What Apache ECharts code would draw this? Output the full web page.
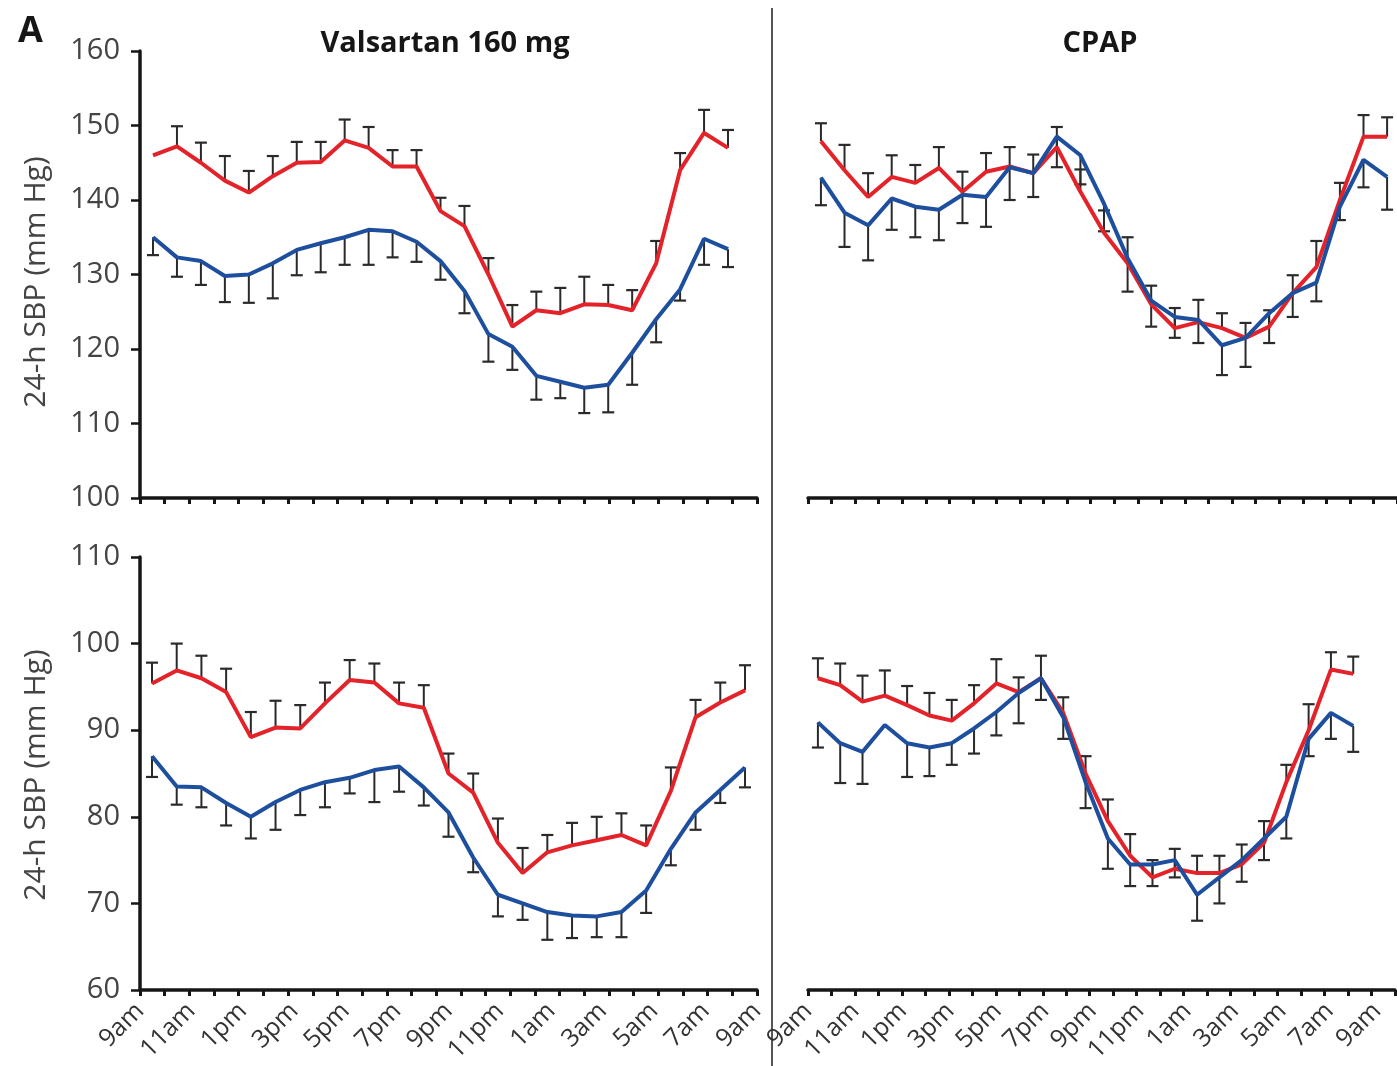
<!DOCTYPE html>
<html>
<head>
<meta charset="utf-8">
<script src="https://cdn.jsdelivr.net/npm/echarts@6/dist/echarts.min.js"></script>
<style>
  html, body { margin: 0; padding: 0; background: #ffffff; }
  #chart { width: 1397px; height: 1066px; }
</style>
</head>
<body>
<div id="chart"></div>
<script>
// Clock labels for the 24-h ambulatory recording (every 2 h)
const tickLabels = ['9am','11am','1pm','3pm','5pm','7pm','9pm','11pm','1am','3am','5am','7am','9am'];

// Valsartan 160 mg – upper panel (mm Hg), hourly means and SEM
const valRedTop     = [146.0,147.2,145.0,142.6,141.0,143.2,145.0,145.1,148.0,147.0,144.5,144.5,138.5,136.5,130.0,123.0,125.2,124.8,126.0,125.9,125.2,131.5,144.0,149.0,147.0];
const valRedTopErr  = [0,2.7,2.7,3.3,2.9,2.7,2.8,2.7,2.8,2.8,2.2,2.2,1.8,2.7,2.2,2.9,2.5,3.4,3.7,2.7,2.7,3.0,2.3,3.1,2.4];
const valBlueTop    = [135.0,132.3,131.8,129.8,130.0,131.5,133.3,134.2,135.0,136.0,135.8,134.4,131.8,127.8,122.0,120.3,116.4,115.6,114.8,115.2,119.5,124.0,128.0,134.8,133.4];
const valBlueTopErr = [2.4,2.6,3.2,3.5,3.8,4.7,3.4,3.9,3.7,4.7,3.5,2.7,2.5,3.0,3.7,3.1,3.2,2.2,3.4,3.7,4.3,3.1,1.5,3.5,2.4];

// Valsartan 160 mg – lower panel
const valRedBot     = [95.4,96.9,96.0,94.4,89.2,90.3,90.2,93.1,95.8,95.5,93.1,92.6,85.0,82.8,77.0,73.5,75.9,76.7,77.3,77.9,76.7,83.0,91.5,93.2,94.6];
const valRedBotErr  = [2.4,3.1,2.6,2.7,2.9,3.1,2.7,2.4,2.3,2.2,2.4,2.6,2.3,2.2,2.8,2.9,2.0,2.6,2.7,2.5,2.3,2.7,2.0,2.3,2.9];
const valBlueBot    = [87.0,83.5,83.4,81.6,80.0,81.7,83.1,84.0,84.5,85.4,85.8,83.4,80.5,75.3,71.0,70.0,69.0,68.6,68.5,69.0,71.5,76.3,80.5,83.1,85.7];
const valBlueBotErr = [2.4,2.1,2.3,2.6,2.5,3.2,2.9,2.9,1.8,3.7,2.9,2.1,2.8,1.7,2.5,1.9,3.2,2.6,2.4,2.9,2.6,1.9,2.0,1.5,2.3];

// CPAP – upper panel
const cpapRedTop     = [147.9,144.0,140.4,143.1,142.3,144.3,141.1,143.8,144.5,143.6,147.1,141.1,135.6,131.5,126.0,122.8,123.6,122.8,121.5,123.0,127.5,131.0,140.0,148.5,148.5];
const cpapRedTopErr  = [2.4,3.4,3.2,2.9,2.4,2.8,2.7,2.5,2.6,2.5,2.7,3.0,3.0,3.5,2.5,2.7,3.0,2.0,2.0,2.2,2.4,3.5,2.3,2.9,2.6];
const cpapBlueTop    = [143.0,138.3,136.6,140.2,139.1,138.7,140.7,140.4,144.4,143.6,148.5,146.0,139.5,132.2,126.5,124.3,123.9,120.5,121.5,124.8,127.5,128.9,139.1,145.4,143.1];
const cpapBlueTopErr = [3.7,4.6,4.7,4.2,4.1,4.1,3.8,4.0,4.4,3.2,4.1,3.9,3.7,4.5,3.5,2.8,3.1,4.0,3.9,4.0,3.2,2.5,1.8,3.7,4.4];

// CPAP – lower panel
const cpapRedBot     = [96.0,95.2,93.3,94.0,92.9,91.7,91.1,93.1,95.4,94.4,96.0,92.0,85.0,79.5,75.5,73.0,74.0,73.5,73.5,74.5,77.0,84.0,90.0,97.0,96.5];
const cpapRedBotErr  = [2.3,2.5,3.0,2.9,2.2,2.6,2.4,2.1,2.8,1.7,2.6,1.8,2.0,2.5,2.5,2.0,2.3,2.0,2.0,2.3,2.5,2.0,3.0,2.0,2.0];
const cpapBlueBot    = [90.9,88.5,87.5,90.6,88.5,88.0,88.5,90.2,92.1,94.3,96.0,91.5,84.0,77.5,74.5,74.5,75.0,71.0,73.0,75.0,77.5,80.0,89.0,92.0,90.5];
const cpapBlueBotErr = [2.9,4.6,3.7,0,3.9,3.3,2.5,2.9,2.7,3.5,2.5,2.5,3.0,3.5,2.5,2.5,2.0,3.0,3.0,2.5,2.5,2.5,2.0,3.0,3.0];

const RED = '#e42229';
const BLUE = '#1d4f9e';
const INK = '#161616';
const FONT = '"Open Sans", "Noto Sans", sans-serif';

// Panel layout: grid box, y range, and the span of the hourly points on the time axis
const panels = [
  { grid: {left: 140, top: 51,  width: 617, height: 447}, yMin: 100, yMax: 160, showY: true,  showLabels: false, dMin: -0.5426, dMax: 25.21, lMax: 24,
    red: valRedTop, redErr: valRedTopErr, blue: valBlueTop, blueErr: valBlueTopErr },
  { grid: {left: 140, top: 557, width: 617, height: 433}, yMin: 60,  yMax: 110, showY: true,  showLabels: true,  dMin: -0.4857, dMax: 24.486, lMax: 24,
    red: valRedBot, redErr: valRedBotErr, blue: valBlueBot, blueErr: valBlueBotErr },
  { grid: {left: 808, top: 51,  width: 592, height: 447}, yMin: 100, yMax: 160, showY: false, showLabels: false, dMin: -0.548, dMax: 24.42, lMax: 24.75,
    red: cpapRedTop, redErr: cpapRedTopErr, blue: cpapBlueTop, blueErr: cpapBlueTopErr },
  { grid: {left: 808, top: 557, width: 592, height: 433}, yMin: 60,  yMax: 110, showY: false, showLabels: true,  dMin: -0.444, dMax: 25.867, lMax: 24.75,
    red: cpapRedBot, redErr: cpapRedBotErr, blue: cpapBlueBot, blueErr: cpapBlueBotErr }
];

// One-sided SEM whisker with a flat cap
function errorBar(dir) {
  return function (params, api) {
    const e = api.value(2);
    if (!e) return null;
    const i = api.value(0), v = api.value(1);
    const p0 = api.coord([i, v]);
    const p1 = api.coord([i, v + dir * e]);
    const hw = 6;
    return {
      type: 'group',
      children: [
        { type: 'line', shape: {x1: p0[0], y1: p0[1], x2: p1[0], y2: p1[1]}, style: {stroke: '#2a2a2a', lineWidth: 2} },
        { type: 'line', shape: {x1: p1[0] - hw, y1: p1[1], x2: p1[0] + hw, y2: p1[1]}, style: {stroke: '#2a2a2a', lineWidth: 2.2} }
      ]
    };
  };
}

const grid = [], xAxis = [], yAxis = [], series = [];
panels.forEach((p, k) => {
  grid.push(p.grid);
  // hourly tick marks along the baseline
  xAxis.push({
    gridIndex: k, type: 'value', position: 'bottom', min: 0, max: 25, interval: 1,
    axisLine: {show: true, onZero: false, lineStyle: {color: INK, width: 3.5}},
    axisTick: {show: true, length: 6, lineStyle: {color: INK, width: 3}},
    axisLabel: {show: false}, splitLine: {show: false}
  });
  // clock labels every two hours
  xAxis.push({
    gridIndex: k, type: 'value', position: 'bottom', min: 0, max: p.lMax, interval: 2,
    axisLine: {show: false, onZero: false}, axisTick: {show: false}, splitLine: {show: false},
    axisLabel: {
      show: p.showLabels, rotate: 45, margin: 17, fontSize: 25, color: '#333', fontFamily: FONT,
      formatter: v => (Number.isInteger(v / 2) && tickLabels[v / 2]) ? tickLabels[v / 2] : ''
    }
  });
  // hidden axis carrying the hourly readings
  xAxis.push({gridIndex: k, type: 'value', position: 'top', min: p.dMin, max: p.dMax, show: false});

  yAxis.push({
    gridIndex: k, type: 'value', min: p.yMin, max: p.yMax, interval: 10, show: p.showY,
    axisLine: {show: true, onZero: false, lineStyle: {color: INK, width: 3.5}},
    axisTick: {show: true, length: 9, lineStyle: {color: INK, width: 2.5}},
    axisLabel: {fontSize: 29, color: '#444', margin: 20, fontFamily: FONT},
    splitLine: {show: false}
  });

  const xi = 3 * k + 2;
  series.push({
    type: 'custom', xAxisIndex: xi, yAxisIndex: k, z: 2, renderItem: errorBar(1),
    encode: {x: 0, y: 1}, data: p.red.map((v, i) => [i, v, p.redErr[i]])
  });
  series.push({
    type: 'custom', xAxisIndex: xi, yAxisIndex: k, z: 2, renderItem: errorBar(-1),
    encode: {x: 0, y: 1}, data: p.blue.map((v, i) => [i, v, p.blueErr[i]])
  });
  series.push({
    type: 'line', xAxisIndex: xi, yAxisIndex: k, z: 3, symbol: 'none',
    lineStyle: {color: RED, width: 4}, itemStyle: {color: RED},
    data: p.red.map((v, i) => [i, v])
  });
  series.push({
    type: 'line', xAxisIndex: xi, yAxisIndex: k, z: 4, symbol: 'none',
    lineStyle: {color: BLUE, width: 4}, itemStyle: {color: BLUE},
    data: p.blue.map((v, i) => [i, v])
  });
});

const chart = echarts.init(document.getElementById('chart'), null, {renderer: 'canvas'});
chart.setOption({
  backgroundColor: '#ffffff',
  animation: false,
  grid, xAxis, yAxis, series,
  graphic: [
    {type: 'text', left: 18, top: 14, style: {text: 'A', font: 'bold 36px ' + FONT, fill: INK}},
    {type: 'text', x: 445, y: 44, style: {text: 'Valsartan 160 mg', font: 'bold 29px ' + FONT, fill: INK, textAlign: 'center', textVerticalAlign: 'middle'}},
    {type: 'text', x: 1100, y: 44, style: {text: 'CPAP', font: 'bold 29px ' + FONT, fill: INK, textAlign: 'center', textVerticalAlign: 'middle'}},
    {type: 'line', shape: {x1: 772, y1: 8, x2: 772, y2: 1066}, style: {stroke: '#555', lineWidth: 2}},
    {type: 'text', x: 36, y: 282, rotation: Math.PI / 2, style: {text: '24-h SBP (mm Hg)', font: '30px ' + FONT, fill: '#444', textAlign: 'center', textVerticalAlign: 'middle'}},
    {type: 'text', x: 36, y: 775, rotation: Math.PI / 2, style: {text: '24-h SBP (mm Hg)', font: '30px ' + FONT, fill: '#444', textAlign: 'center', textVerticalAlign: 'middle'}}
  ]
});
</script>
</body>
</html>
